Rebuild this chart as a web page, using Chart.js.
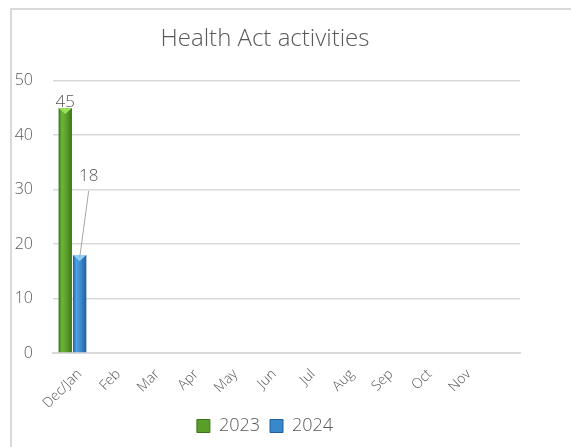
<!DOCTYPE html>
<html>
<head>
<meta charset="utf-8">
<script src="https://cdn.jsdelivr.net/npm/chart.js@4/dist/chart.umd.min.js"></script>
<style>
html,body{margin:0;padding:0;background:#fff;}
#wrap{position:relative;width:571px;height:447px;}
canvas{display:block;}
</style>
</head>
<body>
<div id="wrap"><canvas id="c" width="571" height="447"></canvas></div>
<script>
const categories = ["Dec/Jan","Feb","Mar","Apr","May","Jun","Jul","Aug","Sep","Oct","Nov",""];
const series2023 = [45,null,null,null,null,null,null,null,null,null,null,null];
const series2024 = [18,null,null,null,null,null,null,null,null,null,null,null];
const yTicks = [0,10,20,30,40,50];
const seriesNames = ["2023","2024"];

const FONT = "'Open Sans', 'DejaVu Sans', sans-serif";
const TEXT = "#595959";

const palettes = [
  {dark:"#3b731a", mid:"#5a9e2a", light:"#6db63a", tri:"#9be05a"},
  {dark:"#1f5f9c", mid:"#3a88cc", light:"#52a2e2", tri:"#8fd0ff"}
];

const borderPlugin = {
  id:"frame",
  afterDraw(chart){
    const ctx = chart.ctx;
    ctx.save();
    ctx.strokeStyle = "#d9d9d9";
    ctx.lineWidth = 2;
    ctx.beginPath();
    ctx.moveTo(11, 447);
    ctx.lineTo(11, 9);
    ctx.lineTo(571, 9);
    ctx.stroke();
    ctx.restore();
  }
};

const barStyle = {
  id:"barStyle",
  afterDatasetDraw(chart, args){
    const ctx = chart.ctx;
    const meta = args.meta;
    const p = palettes[args.index];
    meta.data.forEach((el, i) => {
      const v = chart.data.datasets[args.index].data[i];
      if (v === null || v === undefined) return;
      const {x, y, base, width} = el.getProps(["x","y","base","width"], true);
      const l = x - width/2, r = x + width/2;
      const g = ctx.createLinearGradient(l, 0, r, 0);
      g.addColorStop(0, p.dark);
      g.addColorStop(0.25, p.light);
      g.addColorStop(0.6, p.mid);
      g.addColorStop(1, p.dark);
      ctx.save();
      ctx.fillStyle = g;
      ctx.fillRect(l, y, width, base - y);
      ctx.fillStyle = p.tri;
      ctx.beginPath();
      ctx.moveTo(l, y);
      ctx.lineTo(r, y);
      ctx.lineTo(x, y + Math.min(6, (base-y)/2));
      ctx.closePath();
      ctx.fill();
      ctx.restore();
    });
  }
};

const labelPlugin = {
  id:"valueLabels",
  afterDatasetsDraw(chart){
    const ctx = chart.ctx;
    ctx.save();
    ctx.font = "300 17px " + FONT;
    ctx.fillStyle = TEXT;
    ctx.textAlign = "center";
    ctx.textBaseline = "middle";
    const m0 = chart.getDatasetMeta(0);
    chart.data.datasets[0].data.forEach((v,i)=>{
      if (v === null) return;
      const el = m0.data[i];
      ctx.fillText(String(v), el.x, el.y - 6);
    });
    const m1 = chart.getDatasetMeta(1);
    chart.data.datasets[1].data.forEach((v,i)=>{
      if (v === null) return;
      const el = m1.data[i];
      const tx = el.x + 9, ty = el.y - 79;
      ctx.fillText(String(v), tx, ty);
      ctx.strokeStyle = "#a6a6a6";
      ctx.lineWidth = 1;
      ctx.beginPath();
      ctx.moveTo(tx, ty + 15);
      ctx.lineTo(el.x, el.y + 3);
      ctx.stroke();
    });
    ctx.restore();
  }
};

new Chart(document.getElementById("c"), {
  type:"bar",
  data:{
    labels: categories,
    datasets:[
      {label: seriesNames[0], data: series2023, backgroundColor:"rgba(0,0,0,0)", borderWidth:0,
       categoryPercentage:0.74, barPercentage:0.93},
      {label: seriesNames[1], data: series2024, backgroundColor:"rgba(0,0,0,0)", borderWidth:0,
       categoryPercentage:0.74, barPercentage:0.93}
    ]
  },
  options:{
    responsive:false,
    animation:false,
    devicePixelRatio:1,
    layout:{padding:{left:10, right:51, top:0, bottom:2}},
    plugins:{
      title:{display:true, text:"Health Act activities", color:TEXT,
        font:{family:FONT, size:24, weight:"300"}, padding:{top:25, bottom:27}},
      legend:{position:"bottom",
        labels:{color:TEXT, font:{family:FONT, size:18, weight:"300"}, boxWidth:13, boxHeight:13, padding:10,
          generateLabels(chart){
            return chart.data.datasets.map((d,i)=>{
              const p = palettes[i];
              return {text:d.label, fillStyle:p.mid, strokeStyle:p.dark, lineWidth:1, datasetIndex:i, fontColor:TEXT};
            });
          }}},
      tooltip:{enabled:false}
    },
    scales:{
      x:{
        afterFit(s){ s.height = 54; },
        grid:{display:false},
        border:{display:true, color:"#d9d9d9", width:2},
        ticks:{color:TEXT, font:{family:FONT, size:14, weight:"300"}, maxRotation:45, minRotation:45, padding:5, labelOffset:7, autoSkip:false}
      },
      y:{
        min:0, max:50,
        afterFit(s){ s.width = 43; },
        afterBuildTicks(s){ s.ticks = yTicks.map(v=>({value:v})); },
        grid:{color:"#d9d9d9", lineWidth:1.5, drawTicks:false},
        border:{display:false},
        ticks:{color:TEXT, font:{family:FONT, size:16, weight:"300"}, padding:20}
      }
    }
  },
  plugins:[barStyle, labelPlugin, borderPlugin]
});
</script>
</body>
</html>
